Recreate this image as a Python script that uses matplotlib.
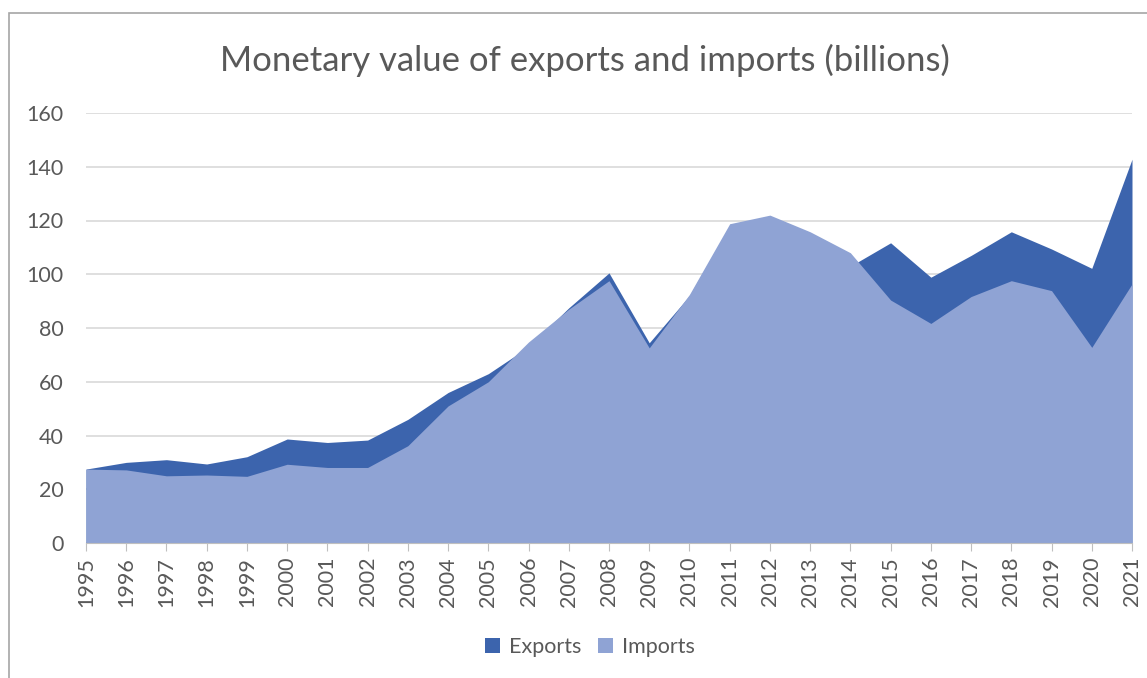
import matplotlib
matplotlib.use("Agg")
import matplotlib.pyplot as plt
from matplotlib.patches import Rectangle

years = list(range(1995, 2022))
exports = [27.5, 30.0, 31.0, 29.4, 32.1, 38.7, 37.4, 38.3, 46.0, 56.0, 63.0, 73.0,
           87.5, 100.5, 74.5, 92.0, 118.0, 121.0, 115.0, 103.0, 111.7, 98.9,
           107.0, 115.8, 109.4, 102.2, 142.8]
imports = [27.5, 27.2, 25.0, 25.3, 24.8, 29.3, 28.1, 28.1, 36.2, 51.0, 60.0, 74.8,
           87.0, 97.6, 72.6, 92.5, 118.8, 122.0, 115.8, 108.0, 90.4, 81.7,
           91.7, 97.6, 93.9, 72.8, 96.4]
yticks = [0, 20, 40, 60, 80, 100, 120, 140, 160]

EXP_COLOR = "#3C64AD"
IMP_COLOR = "#8FA3D4"
TEXT = "#595959"

plt.rcParams["font.family"] = ["Lato", "DejaVu Sans"]

fig = plt.figure(figsize=(11.47, 6.78), dpi=100)
# chart area border (cropped at right/bottom in the reference)
fig.patches.append(Rectangle((9 / 1147, -0.1), 1.2, 1 - 13 / 678 + 0.1,
                             transform=fig.transFigure, fill=False,
                             edgecolor="#A6A6A6", linewidth=1.2))

ax = fig.add_axes([86 / 1147, 1 - 543 / 678, (1132 - 86) / 1147, (543 - 113) / 678])
ax.fill_between(years, exports, 0, color=EXP_COLOR, linewidth=0, label="Exports", zorder=2)
ax.fill_between(years, imports, 0, color=IMP_COLOR, linewidth=0, label="Imports", zorder=3)

ax.set_xlim(1995, 2021)
ax.set_ylim(0, 160)
ax.set_yticks(yticks)
ax.set_xticks(years)
ax.set_xticklabels([str(y) for y in years], rotation=90)
ax.grid(axis="y", color="#D9D9D9", linewidth=1.2, zorder=0)
ax.set_axisbelow(True)
for side in ["top", "right", "left"]:
    ax.spines[side].set_visible(False)
ax.spines["bottom"].set_color("#BFBFBF")
ax.spines["bottom"].set_zorder(4)
ax.tick_params(axis="y", length=0, pad=16, labelsize=15.5, labelcolor=TEXT)
ax.tick_params(axis="x", length=6, color="#BFBFBF", pad=4, labelsize=15.5, labelcolor=TEXT)

fig.text(585 / 1147, 1 - 60 / 678, "Monetary value of exports and imports (billions)",
         ha="center", va="center", fontsize=25, color=TEXT)

fig.legend(loc="center", bbox_to_anchor=(590 / 1147, 1 - 647 / 678), ncol=2,
           frameon=False, fontsize=15.5, labelcolor=TEXT, handlelength=0.7,
           handleheight=0.7, handletextpad=0.4, columnspacing=0.8)

fig.savefig("out.png", dpi=100)
